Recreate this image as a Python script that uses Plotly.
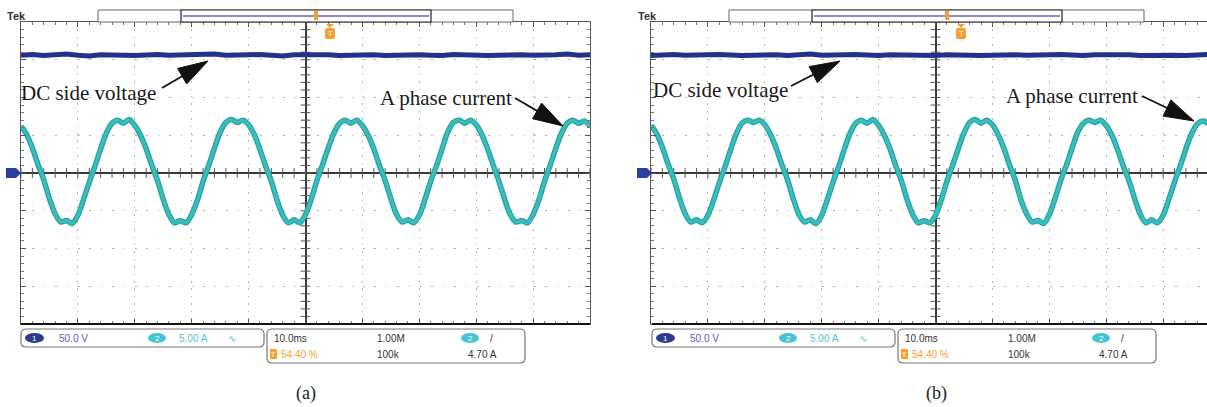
import plotly.graph_objects as go
import numpy as np

W, H = 1207, 407

# ---------------- data ----------------
time_ms = list(range(-50, 51))          # 10.0 ms/div, 10 divisions
ch1_scale_v = 50.0                      # V/div
ch2_scale_a = 5.0                       # A/div

current_a = [6.2, 5.1, 3.3, 1.1, -0.9, -3.4, -5.4, -6.5, -6.3, -6.7,
             -5.6, -3.5, -1.2, 0.9, 3.2, 5.3, 6.6, 7.0, 6.6, 7.1,
             6.3, 5.0, 3.2, 1.0, -1.0, -3.5, -5.5, -6.6, -6.3, -6.6,
             -5.5, -3.6, -1.1, 1.0, 3.3, 5.4, 6.7, 7.1, 6.7, 7.0,
             6.4, 5.1, 3.1, 0.9, -1.1, -3.6, -5.6, -6.6, -6.2, -6.6,
             -5.5, -3.5, -1.0, 1.1, 3.3, 5.3, 6.6, 7.0, 6.6, 7.0,
             6.3, 5.0, 3.2, 1.0, -1.0, -3.4, -5.5, -6.5, -6.2, -6.6,
             -5.6, -3.5, -1.1, 0.9, 3.2, 5.4, 6.7, 7.0, 6.6, 7.0,
             6.4, 5.1, 3.2, 1.0, -1.1, -3.5, -5.5, -6.5, -6.3, -6.6,
             -5.5, -3.6, -1.1, 1.0, 3.3, 5.3, 6.6, 7.0, 6.6, 6.9,
             6.2]

current_b = [6.3, 5.2, 3.4, 1.2, -0.8, -3.3, -5.4, -6.5, -6.2, -6.6,
             -5.6, -3.6, -1.3, 0.8, 3.1, 5.2, 6.6, 7.0, 6.7, 7.0,
             6.4, 5.1, 3.3, 1.1, -0.9, -3.4, -5.5, -6.5, -6.2, -6.7,
             -5.6, -3.5, -1.2, 0.9, 3.2, 5.3, 6.6, 7.0, 6.6, 7.1,
             6.3, 5.0, 3.2, 1.0, -1.0, -3.5, -5.5, -6.6, -6.3, -6.6,
             -5.6, -3.6, -1.1, 1.0, 3.2, 5.3, 6.7, 7.1, 6.6, 7.0,
             6.4, 5.1, 3.3, 1.1, -0.9, -3.5, -5.4, -6.5, -6.3, -6.7,
             -5.5, -3.4, -1.0, 1.0, 3.3, 5.4, 6.6, 7.0, 6.7, 7.0,
             6.3, 5.0, 3.1, 0.9, -1.0, -3.4, -5.5, -6.6, -6.2, -6.6,
             -5.6, -3.5, -1.2, 0.9, 3.2, 5.2, 6.5, 6.9, 6.6, 7.0,
             6.3]

dc_time_ms = list(range(-50, 51, 2))
dc_voltage_a = [156, 157, 155.5, 156.5, 157.5, 156, 155, 156.5, 157, 156,
                155.5, 156.5, 157, 156, 156.5, 155.5, 156, 157.5, 156, 155.5,
                156.5, 157, 156, 155, 156.5, 157, 156, 156.5, 155.5, 156,
                157, 156.5, 155.5, 156, 157, 156.5, 156, 155.5, 157, 156,
                156.5, 155.5, 156, 157, 156.5, 156, 155.5, 156.5, 157.5, 156,
                156.5]
dc_voltage_b = [155.5, 156.5, 157, 156, 155.5, 156.5, 157, 156, 155.5, 156,
                157, 156.5, 155.5, 156, 157.5, 156, 155.5, 156.5, 157, 156,
                155.5, 156.5, 156, 157, 156, 155.5, 156.5, 157, 156, 155.5,
                156, 157, 156.5, 156, 155.5, 156.5, 157, 156, 155.5, 156.5,
                157, 156, 156.5, 155.5, 156, 157, 156, 155.5, 156.5, 157,
                156]

label_dc = "DC side voltage"
label_ia = "A phase current"
captions = ["(a)", "(b)"]
ch1_text = "50.0 V"
ch2_text = "5.00 A"
timebase_text = "10.0ms"
trig_pos_text = "54.40 %"
rec_len_text = "1.00M"
sample_text = "100k"
trig_level_text = "4.70 A"

# ---------------- helpers ----------------
def X(px):
    return px / W

def Y(py):
    return 1 - py / H

def rrect(x0, y0, x1, y1, r):
    p = [
        f"M{X(x0 + r)},{Y(y0)}", f"L{X(x1 - r)},{Y(y0)}",
        f"Q{X(x1)},{Y(y0)} {X(x1)},{Y(y0 + r)}", f"L{X(x1)},{Y(y1 - r)}",
        f"Q{X(x1)},{Y(y1)} {X(x1 - r)},{Y(y1)}", f"L{X(x0 + r)},{Y(y1)}",
        f"Q{X(x0)},{Y(y1)} {X(x0)},{Y(y1 - r)}", f"L{X(x0)},{Y(y0 + r)}",
        f"Q{X(x0)},{Y(y0)} {X(x0 + r)},{Y(y0)}", "Z"]
    return " ".join(p)

def arrow_shapes(tail, tip, length=30, width=18):
    tx, ty = tail
    hx, hy = tip
    dx, dy = hx - tx, hy - ty
    n = (dx * dx + dy * dy) ** 0.5
    ux, uy = dx / n, dy / n
    bx, by = hx - ux * length, hy - uy * length
    px_, py_ = -uy, ux
    lx, ly = bx + px_ * width / 2, by + py_ * width / 2
    rx, ry = bx - px_ * width / 2, by - py_ * width / 2
    head = dict(type="path", xref="paper", yref="paper",
                path=f"M{X(hx)},{Y(hy)} L{X(lx)},{Y(ly)} L{X(rx)},{Y(ry)} Z",
                fillcolor="#111111", line=dict(color="#111111", width=1))
    shaft = dict(type="line", xref="paper", yref="paper",
                 x0=X(tx), y0=Y(ty), x1=X(bx + ux * 3), y1=Y(by + uy * 3),
                 line=dict(color="#111111", width=1.8))
    return [shaft, head]

fig = go.Figure()

panels = [
    dict(xa="x", ya="y", cur=current_a, dc=dc_voltage_a, off=0),
    dict(xa="x2", ya="y2", cur=current_b, dc=dc_voltage_b, off=631),
]

TEAL_DARK = "#23a3a3"
TEAL = "#3cbdbd"
NAVY = "#22308e"

for p in panels:
    # centre-line tick marks (graticule)
    fig.add_trace(go.Scatter(x=np.arange(-50, 50.01, 2), y=np.zeros(51),
                             xaxis=p["xa"], yaxis=p["ya"], mode="markers",
                             marker=dict(symbol="line-ns", size=7,
                                         line=dict(width=1, color="#555")),
                             hoverinfo="skip", showlegend=False))
    fig.add_trace(go.Scatter(x=np.zeros(41), y=np.arange(-4, 4.001, 0.2),
                             xaxis=p["xa"], yaxis=p["ya"], mode="markers",
                             marker=dict(symbol="line-ew", size=7,
                                         line=dict(width=1, color="#555")),
                             hoverinfo="skip", showlegend=False))
    # DC voltage (CH1)
    fig.add_trace(go.Scatter(x=dc_time_ms, y=[v / ch1_scale_v for v in p["dc"]],
                             xaxis=p["xa"], yaxis=p["ya"], mode="lines",
                             line=dict(color=NAVY, width=5),
                             hoverinfo="skip", showlegend=False))
    # phase current (CH2)
    ydiv = [a / ch2_scale_a for a in p["cur"]]
    fig.add_trace(go.Scatter(x=time_ms, y=ydiv, xaxis=p["xa"], yaxis=p["ya"],
                             mode="lines", line=dict(color=TEAL_DARK, width=5.5, shape="spline",
                                                     smoothing=0.8),
                             hoverinfo="skip", showlegend=False))
    fig.add_trace(go.Scatter(x=time_ms, y=ydiv, xaxis=p["xa"], yaxis=p["ya"],
                             mode="lines", line=dict(color=TEAL, width=3, shape="spline",
                                                     smoothing=0.8),
                             hoverinfo="skip", showlegend=False))

ax_common = dict(showgrid=True, gridcolor="#b0b0b0", gridwidth=1,
                 zeroline=True, zerolinecolor="#3a3a3a", zerolinewidth=1.5,
                 showline=True, linecolor="#555", linewidth=1,
                 ticks="inside", ticklen=5, tickcolor="#555",
                 showticklabels=False, fixedrange=True)

ydom = [1 - 324 / H, 1 - 22 / H]
fig.update_layout(
    width=W, height=H, margin=dict(l=0, r=0, t=0, b=0),
    paper_bgcolor="white", plot_bgcolor="white", showlegend=False,
    xaxis=dict(domain=[X(21), X(590)], range=[-50, 50], dtick=10, anchor="y",
               griddash="1.5px,5.9px", mirror="ticks",
               minor=dict(dtick=2, ticks="inside", ticklen=3, tickcolor="#777"),
               **ax_common),
    yaxis=dict(domain=ydom, range=[-4, 4], dtick=1, anchor="x",
               griddash="1.5px,9.9px", mirror="ticks",
               minor=dict(dtick=0.2, ticks="inside", ticklen=3, tickcolor="#777"),
               **ax_common),
    xaxis2=dict(domain=[X(651), 1.0], range=[-50, -50 + (W - 651) / 5.69], dtick=10,
                anchor="y2", griddash="1.5px,5.9px", mirror="ticks",
                minor=dict(dtick=2, ticks="inside", ticklen=3, tickcolor="#777"),
                **ax_common),
    yaxis2=dict(domain=ydom, range=[-4, 4], dtick=1, anchor="x2",
                griddash="1.5px,9.9px", mirror=False,
                minor=dict(dtick=0.2, ticks="inside", ticklen=3, tickcolor="#777"),
                **ax_common),
)

shapes = []
ann = []
for i, p in enumerate(panels):
    o = p["off"]
    # heavy bottom border
    shapes.append(dict(type="line", xref="paper", yref="paper",
                       x0=X(21 + o), x1=X(min(590 + o, W)), y0=Y(324), y1=Y(324),
                       line=dict(color="#111", width=2.2)))
    # record bar at top
    shapes.append(dict(type="rect", xref="paper", yref="paper",
                       x0=X(98 + o), x1=X(513 + o), y0=Y(22), y1=Y(10),
                       line=dict(color="#666", width=1), fillcolor="white"))
    shapes.append(dict(type="rect", xref="paper", yref="paper",
                       x0=X(181 + o), x1=X(431 + o), y0=Y(22), y1=Y(10),
                       line=dict(color="#222", width=1.2), fillcolor="white"))
    shapes.append(dict(type="line", xref="paper", yref="paper",
                       x0=X(183 + o), x1=X(429 + o), y0=Y(16), y1=Y(16),
                       line=dict(color="#8a8ad8", width=2)))
    shapes.append(dict(type="rect", xref="paper", yref="paper",
                       x0=X(314 + o), x1=X(318 + o), y0=Y(20), y1=Y(11),
                       line=dict(width=0), fillcolor="#f5a030"))
    # trigger position marker
    shapes.append(dict(type="path", xref="paper", yref="paper",
                       path=f"M{X(326+o)},{Y(24)} L{X(334+o)},{Y(24)} L{X(330+o)},{Y(28)} Z",
                       fillcolor="#f5a030", line=dict(width=0)))
    shapes.append(dict(type="path", xref="paper", yref="paper",
                       path=rrect(325 + o, 28, 335 + o, 39, 2),
                       fillcolor="#f5a030", line=dict(width=0)))
    ann.append(dict(x=X(330 + o), y=Y(33.5), xref="paper", yref="paper", text="T",
                    showarrow=False, font=dict(family="Liberation Sans", size=8, color="white"),
                    xanchor="center", yanchor="middle"))
    # ground marker on left
    shapes.append(dict(type="path", xref="paper", yref="paper",
                       path=(f"M{X(6+o)},{Y(168)} L{X(16+o)},{Y(168)} L{X(21+o)},{Y(173)} "
                             f"L{X(16+o)},{Y(178)} L{X(6+o)},{Y(178)} Z"),
                       fillcolor="#2c3e9e", line=dict(width=0)))
    ann.append(dict(x=X(5 + o), y=Y(16), xref="paper", yref="paper", text="<b>Tek</b>",
                    showarrow=False, font=dict(family="Liberation Sans", size=11, color="#333"),
                    xanchor="left", yanchor="middle"))
    # status boxes
    shapes.append(dict(type="path", xref="paper", yref="paper",
                       path=rrect(21 + o, 329, 264 + o, 347, 5),
                       fillcolor="white", line=dict(color="#777", width=1.2)))
    shapes.append(dict(type="path", xref="paper", yref="paper",
                       path=rrect(267 + o, 329, 525 + o, 363, 5),
                       fillcolor="white", line=dict(color="#777", width=1.2)))
    shapes.append(dict(type="circle", xref="paper", yref="paper",
                       x0=X(25 + o), x1=X(44 + o), y0=Y(343), y1=Y(333),
                       fillcolor="#2a3a8e", line=dict(width=0)))
    shapes.append(dict(type="circle", xref="paper", yref="paper",
                       x0=X(148 + o), x1=X(166 + o), y0=Y(343), y1=Y(333),
                       fillcolor="#45c4d4", line=dict(width=0)))
    shapes.append(dict(type="circle", xref="paper", yref="paper",
                       x0=X(461 + o), x1=X(479 + o), y0=Y(343), y1=Y(333),
                       fillcolor="#45c4d4", line=dict(width=0)))
    shapes.append(dict(type="rect", xref="paper", yref="paper",
                       x0=X(270 + o), x1=X(277 + o), y0=Y(359), y1=Y(349),
                       fillcolor="#f5a030", line=dict(width=0)))
    def t(x, y, s, c, size=10, anchor="left"):
        ann.append(dict(x=X(x + o), y=Y(y), xref="paper", yref="paper", text=s,
                        showarrow=False, font=dict(family="Liberation Sans", size=size, color=c),
                        xanchor=anchor, yanchor="middle"))
    t(34.5, 338, "1", "white", 8, "center")
    t(157, 338, "2", "white", 8, "center")
    t(470, 338, "2", "white", 8, "center")
    t(273.5, 354, "T", "white", 7, "center")
    t(57, 338, ch1_text, "#5c5cb8")
    t(177, 338, ch2_text, "#45c4d4")
    t(226, 338, "∿", "#45c4d4")
    t(272, 338, timebase_text, "#333")
    t(375, 338, rec_len_text, "#333")
    t(488, 338, "/", "#333")
    t(279, 354, trig_pos_text, "#f5a030")
    t(375, 354, sample_text, "#333")
    t(466, 354, trig_level_text, "#333")
    # caption
    ann.append(dict(x=X(306 + o), y=Y(393), xref="paper", yref="paper", text=captions[i],
                    showarrow=False, font=dict(family="Liberation Serif", size=18, color="#222"),
                    xanchor="center", yanchor="middle"))

# text labels and arrows
serif = dict(family="Liberation Serif", size=21, color="#1a1a1a")
ann.append(dict(x=X(19), y=Y(93), xref="paper", yref="paper", text=label_dc,
                showarrow=False, font=serif, xanchor="left", yanchor="middle"))
ann.append(dict(x=X(378), y=Y(98), xref="paper", yref="paper", text=label_ia,
                showarrow=False, font=serif, xanchor="left", yanchor="middle"))
ann.append(dict(x=X(651), y=Y(90), xref="paper", yref="paper", text=label_dc,
                showarrow=False, font=serif, xanchor="left", yanchor="middle"))
ann.append(dict(x=X(1004), y=Y(96), xref="paper", yref="paper", text=label_ia,
                showarrow=False, font=serif, xanchor="left", yanchor="middle"))
shapes += arrow_shapes((162, 88), (208, 61))
shapes += arrow_shapes((515, 98), (563, 126))
shapes += arrow_shapes((791, 86), (840, 61))
shapes += arrow_shapes((1142, 96), (1194, 121))

fig.update_layout(shapes=shapes, annotations=ann)
fig.write_html("out.html")
